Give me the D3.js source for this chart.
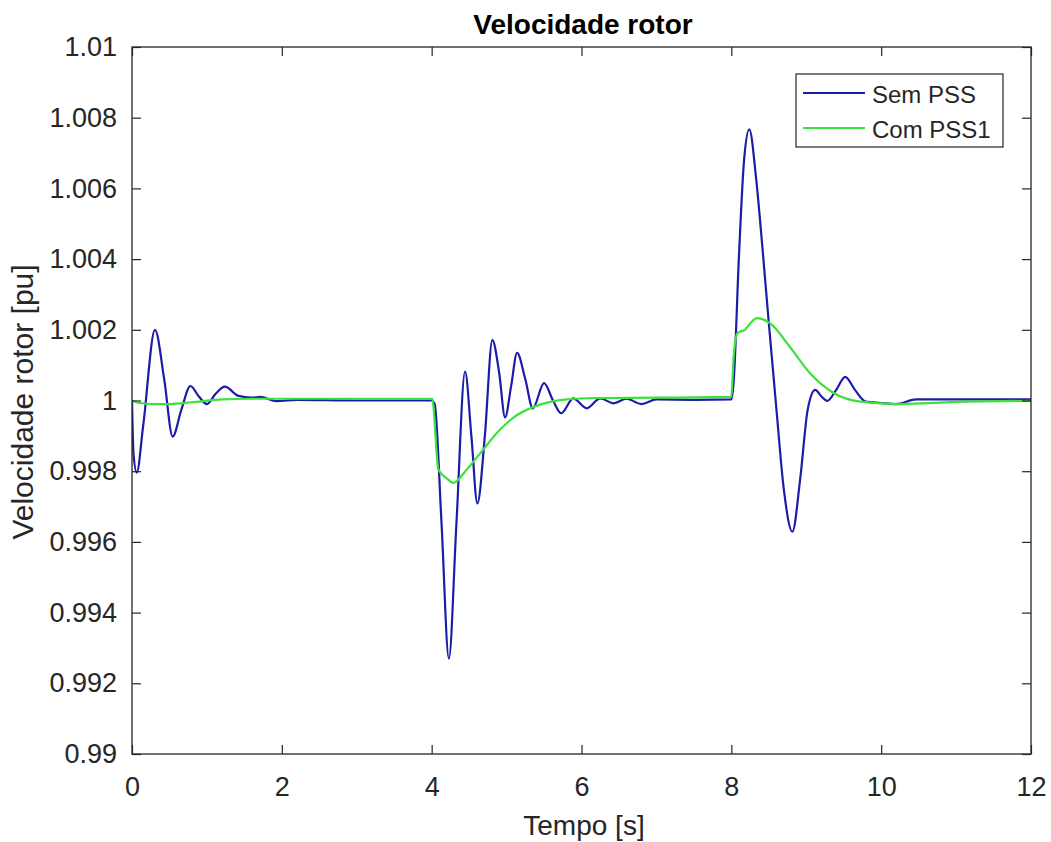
<!DOCTYPE html>
<html>
<head>
<meta charset="utf-8">
<script src="https://cdn.jsdelivr.net/npm/d3@7"></script>
<style>
  body { margin: 0; background: #fff; }
  text { font-family: "Liberation Sans", Arial, sans-serif; fill: #262626; }
</style>
</head>
<body>
<svg id="chart" width="1051" height="842"></svg>
<script>
// Sem PSS (blue)
var tBlue = [0, 0.02, 0.063, 0.15, 0.307, 0.43, 0.543, 0.66, 0.78, 0.89, 1.0, 1.12, 1.24, 1.42, 1.6, 1.71, 1.93, 2.2, 3,
    4.0, 4.04, 4.13, 4.23, 4.33, 4.446, 4.53, 4.61, 4.71, 4.81, 4.9, 4.98, 5.06, 5.14, 5.25, 5.35, 5.5, 5.62, 5.73, 5.89,
    6.07, 6.25, 6.43, 6.6, 6.8, 7.0, 7.5, 8.0, 8.03, 8.1, 8.17, 8.24, 8.33, 8.42, 8.5, 8.6, 8.7, 8.815, 8.92, 9.02, 9.12,
    9.2, 9.28, 9.4, 9.52, 9.65, 9.79, 10.0, 10.2, 10.47, 11, 12];
var vBlue = [1.0, 0.9985, 0.99796, 0.9993, 1.002, 1.0006, 0.99898, 0.99975, 1.00041, 1.00012, 0.9999, 1.0002, 1.00039, 1.00013, 1.00008, 1.0001, 0.99998, 1.00002, 1.0,
    1.0, 0.9999, 0.9966, 0.9927, 0.9965, 1.00082, 0.9990, 0.99709, 0.9990, 1.00171, 1.0008, 0.99952, 1.0004, 1.00135, 1.0006, 0.99978, 1.00049, 1.0000, 0.99964, 1.00006,
    0.99978, 1.00006, 0.99992, 1.00005, 0.9999, 1.00003, 1.00002, 1.00003, 1.0005, 1.004, 1.0068, 1.00767, 1.0063, 1.0042, 1.0022, 0.9998, 0.9975, 0.99629, 0.9978, 0.99975, 1.0003,
    1.00012, 0.99999, 1.0003, 1.00067, 1.0003, 0.99997, 0.99993, 0.9999, 1.00003, 1.00003, 1.00003];

// Com PSS1 (green)
var tGreen = [0, 0.1, 0.3, 0.51, 0.8, 1.2, 1.6, 2, 3, 4.0, 4.01, 4.09, 4.2, 4.29, 4.45, 4.65, 4.91, 5.1, 5.36, 5.6, 5.8, 6.2, 7,
    8.0, 8.03, 8.08, 8.12, 8.18, 8.26, 8.34, 8.52, 8.78, 9.05, 9.36, 9.72, 10.25, 11, 12];
var vGreen = [1.0, 0.99993, 0.9999, 0.9999, 0.99995, 1.00003, 1.00005, 1.00005, 1.00005, 1.00005, 1.00003, 0.99805, 0.9978, 0.99767, 0.9980, 0.99851, 0.99917, 0.99953, 0.99982, 0.99997, 1.00003, 1.00007, 1.00008,
    1.0001, 1.0012, 1.0019, 1.00195, 1.002, 1.0022, 1.00233, 1.00218, 1.00152, 1.00077, 1.00022, 0.99997, 0.9999, 0.99996, 0.99999];

var xTicks = [0, 2, 4, 6, 8, 10, 12];
var yTicks = [0.99, 0.992, 0.994, 0.996, 0.998, 1, 1.002, 1.004, 1.006, 1.008, 1.01];
var seriesNames = ["Sem PSS", "Com PSS1"];
var seriesColors = ["#1c1ca8", "#3be23b"];

var svg = d3.select("#chart");
var pLeft = 132, pRight = 1031, pTop = 47, pBottom = 754;

var x = d3.scaleLinear().domain([0, 12]).range([pLeft, pRight]);
var y = d3.scaleLinear().domain([0.99, 1.01]).range([pBottom, pTop]);

var axisColor = "#262626";

// lines
var line = d3.line()
    .x(function (d) { return x(d[0]); })
    .y(function (d) { return y(d[1]); })
    .curve(d3.curveMonotoneX);

svg.append("clipPath").attr("id", "clip")
    .append("rect").attr("x", pLeft).attr("y", pTop).attr("width", pRight - pLeft).attr("height", pBottom - pTop);

var plot = svg.append("g").attr("clip-path", "url(#clip)");
plot.append("path")
    .datum(d3.zip(tBlue, vBlue))
    .attr("d", line)
    .attr("fill", "none")
    .attr("stroke", seriesColors[0])
    .attr("stroke-width", 2.2);
plot.append("path")
    .datum(d3.zip(tGreen, vGreen))
    .attr("d", line)
    .attr("fill", "none")
    .attr("stroke", seriesColors[1])
    .attr("stroke-width", 2.2);

// axes (inward ticks, box)
function styleAxis(g) {
    g.select(".domain").remove();
    g.selectAll(".tick line").attr("stroke", axisColor).attr("stroke-width", 1.2);
    g.selectAll(".tick text").style("font-size", "27px").attr("fill", axisColor);
}
svg.append("g").attr("transform", "translate(0," + pBottom + ")")
    .call(d3.axisBottom(x).tickValues(xTicks).tickSizeInner(-9).tickPadding(23))
    .call(styleAxis);
svg.append("g").attr("transform", "translate(0," + pTop + ")")
    .call(d3.axisTop(x).tickValues(xTicks).tickSizeInner(-9).tickFormat(""))
    .call(styleAxis);
svg.append("g").attr("transform", "translate(" + pLeft + ",0)")
    .call(d3.axisLeft(y).tickValues(yTicks).tickSizeInner(-9).tickPadding(15).tickFormat(d3.format("")))
    .call(styleAxis);
svg.append("g").attr("transform", "translate(" + pRight + ",0)")
    .call(d3.axisRight(y).tickValues(yTicks).tickSizeInner(-9).tickFormat(""))
    .call(styleAxis);

svg.append("rect")
    .attr("x", pLeft).attr("y", pTop)
    .attr("width", pRight - pLeft).attr("height", pBottom - pTop)
    .attr("fill", "none").attr("stroke", axisColor).attr("stroke-width", 1.3);

// title and labels
svg.append("text")
    .attr("x", 583).attr("y", 34)
    .attr("text-anchor", "middle")
    .style("font-size", "28px").style("font-weight", "bold")
    .style("fill", "#000")
    .text("Velocidade rotor");
svg.append("text")
    .attr("x", 584).attr("y", 835)
    .attr("text-anchor", "middle")
    .style("font-size", "28px")
    .text("Tempo [s]");
svg.append("text")
    .attr("transform", "translate(33,402) rotate(-90)")
    .attr("text-anchor", "middle")
    .style("font-size", "30px")
    .text("Velocidade rotor [pu]");

// legend
var legend = svg.append("g");
legend.append("rect")
    .attr("x", 796).attr("y", 74).attr("width", 207).attr("height", 73)
    .attr("fill", "#fff").attr("stroke", axisColor).attr("stroke-width", 1.2);
seriesNames.forEach(function (name, i) {
    var ly = 93 + i * 35;
    legend.append("line")
        .attr("x1", 803).attr("x2", 865).attr("y1", ly).attr("y2", ly)
        .attr("stroke", seriesColors[i]).attr("stroke-width", 2);
    legend.append("text")
        .attr("x", 872).attr("y", ly + 10)
        .style("font-size", "24px")
        .text(name);
});
</script>
</body>
</html>
